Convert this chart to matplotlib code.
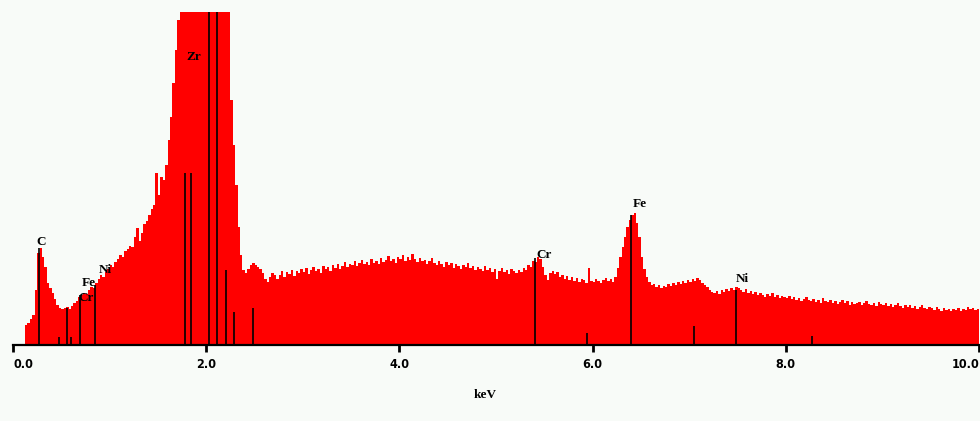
import numpy as np
import matplotlib
matplotlib.use("Agg")
import matplotlib.pyplot as plt

# Spectrum: counts (arb.) in 0.025 keV bins starting at 0.100 keV
bin_width = 0.025
first_bin = 0.100
counts = [
    0, 20, 22, 26, 30, 55, 92, 97, 88, 78,            # 0.100 - 0.325
    62, 57, 52, 46, 40, 37, 36, 37, 38, 36,           # 0.350 - 0.575
    39, 42, 44, 48, 50, 52, 51, 55, 58, 57,           # 0.600 - 0.825
    62, 66, 70, 68, 73, 76, 80, 78, 83, 86,           # 0.850 - 1.075
    90, 88, 94, 96, 99, 98, 108, 117, 104, 112,       # 1.100 - 1.325
    121, 124, 130, 136, 140, 172, 150, 168, 165, 180, # 1.350 - 1.575
    205, 228, 262, 295, 325, 340, 340, 340, 340, 340, # 1.600 - 1.825
    340, 340, 340, 340, 340, 340, 340, 340, 340, 340, # 1.850 - 2.075
    340, 340, 340, 340, 340, 340, 245, 200, 160, 118, # 2.100 - 2.325
    90, 75, 72, 76, 80, 82, 80, 78, 76, 72,           # 2.350 - 2.575
    66, 63, 68, 72, 70, 66,                           # 2.600 - 2.725
    70, 74, 68, 73, 71, 75, 69, 74, 72, 76,           # 2.750 - 2.975
    73, 77, 71, 75, 78, 74, 76, 72, 79, 76,           # 3.000 - 3.225
    78, 74, 80, 77, 81, 76, 79, 83, 78, 81,           # 3.250 - 3.475
    80, 84, 79, 82, 85, 81, 83, 80, 86, 82,           # 3.500 - 3.725
    84, 81, 87, 83, 85, 89, 84, 86, 82, 88,           # 3.750 - 3.975
    86, 90, 84, 88, 85, 91, 86, 83, 87, 84,           # 4.000 - 4.225
    85, 81, 84, 87, 82, 80, 84, 81, 78, 83,           # 4.250 - 4.475
    80, 82, 77, 81, 79, 76, 80, 78, 82, 77,           # 4.500 - 4.725
    79, 75, 78, 76, 74, 79, 75, 77, 73, 76,           # 4.750 - 4.975
    66, 74, 77, 73, 75, 71, 76, 74, 72, 75,           # 5.000 - 5.225
    73, 77, 75, 80, 78, 84, 83, 88, 86, 78,           # 5.250 - 5.475
    70, 65, 72, 74, 71, 73, 68, 70, 66, 69,           # 5.500 - 5.725
    65, 68, 64, 67, 63, 66, 65, 62, 77, 64,           # 5.750 - 5.975
    63, 66, 64, 62, 65, 67, 64, 66, 63, 68,           # 6.000 - 6.225
    77, 88, 98, 108, 118, 125, 130, 132, 122, 108,    # 6.250 - 6.475
    88, 76, 68, 63, 60, 61, 58, 60, 57, 59,           # 6.500 - 6.725
    58, 61, 59, 62, 60, 63, 61, 64, 62, 65,           # 6.750 - 6.975
    63, 66, 64, 67, 65, 62, 60, 58, 55, 53,           # 7.000 - 7.225
    52, 54, 51, 55, 53, 56, 54, 57, 55, 58,           # 7.250 - 7.475
    57, 55, 53, 56, 52, 54, 51, 53, 50, 52,           # 7.500 - 7.725
    50, 48, 51, 49, 52, 48, 50, 47, 49, 48,           # 7.750 - 7.975
    47, 49, 46, 48, 45, 47, 44, 46, 48, 45,           # 8.000 - 8.225
    44, 46, 43, 45, 42, 47, 44, 43, 45, 42,           # 8.250 - 8.475
    44, 41, 43, 45, 42, 44, 40, 43, 41, 42,           # 8.500 - 8.725
    43, 40, 42, 44, 41, 40, 42, 39, 43, 41,           # 8.750 - 8.975
    40, 42, 39, 41, 38, 40, 42, 39, 37, 40,           # 9.000 - 9.225
    38, 40, 37, 39, 36, 38, 40, 37, 36, 38,           # 9.250 - 9.475
    37, 35, 38, 36, 34, 37, 35, 36, 34, 36,           # 9.500 - 9.725
    35, 37, 34, 36, 35, 38, 36, 37, 35, 36,           # 9.750 - 9.975
]
bin_start = first_bin + bin_width * np.arange(len(counts))

# KLM marker lines
marker_e = [0.27, 0.48, 0.555, 0.60, 0.69, 0.85, 1.78, 1.84, 2.03, 2.11,
            2.21, 2.29, 2.48, 5.405, 5.94, 6.40, 7.05, 7.48, 8.27]
marker_h = [97, 8, 37, 8, 50, 60, 172, 172, 340, 340,
            75, 33, 37, 87, 12, 130, 19, 55, 9]

# Element labels
label_text = ["C", "Fe", "Cr", "Ni", "Zr", "Cr", "Fe", "Ni"]
label_e = [0.29, 0.78, 0.755, 0.96, 1.87, 5.50, 6.49, 7.55]
label_h = [103, 62, 47, 75, 288, 90, 141, 66]

tick_vals = [0, 2, 4, 6, 8, 10]
tick_labels = ["0.0", "2.0", "4.0", "6.0", "8.0", "10.0"]

W, H = 980, 421
bg = "#f8fbf8"
fig = plt.figure(figsize=(W / 100, H / 100), dpi=100, facecolor=bg)
ax = fig.add_axes([13 / W, (H - 345) / H, 966 / W, 333 / H])
ax.set_facecolor(bg)

ax.bar(bin_start, counts, width=bin_width, align="edge", color="#ff0000",
       linewidth=0, zorder=1)
ax.vlines(marker_e, 0, marker_h, colors="black", linewidth=1.2, zorder=3)

for t, e, h in zip(label_text, label_e, label_h):
    ax.text(e, h, t, ha="center", va="center", fontsize=9.5, fontweight="bold",
            family="Liberation Serif", color="black", zorder=4)

ax.set_xlim(0, 10)
ax.set_ylim(0, 333)
ax.set_yticks([])
for s in ["top", "left", "right"]:
    ax.spines[s].set_visible(False)
ax.spines["bottom"].set_linewidth(1.6)
ax.spines["bottom"].set_zorder(5)
ax.set_xticks(tick_vals)
ax.set_xticklabels(tick_labels, family="DejaVu Sans", fontweight="bold",
                   fontstretch="condensed", fontsize=9)
ax.tick_params(axis="x", direction="out", length=5, width=2, pad=4,
               colors="black")
tl = ax.get_xticklabels()
tl[0].set_horizontalalignment("left")
tl[-1].set_horizontalalignment("right")

fig.text(485 / W, 1 - 395 / H, "keV", ha="center", va="center",
         fontsize=9.5, fontweight="bold", family="Liberation Serif")

fig.savefig("out.png", dpi=100, facecolor=bg)
